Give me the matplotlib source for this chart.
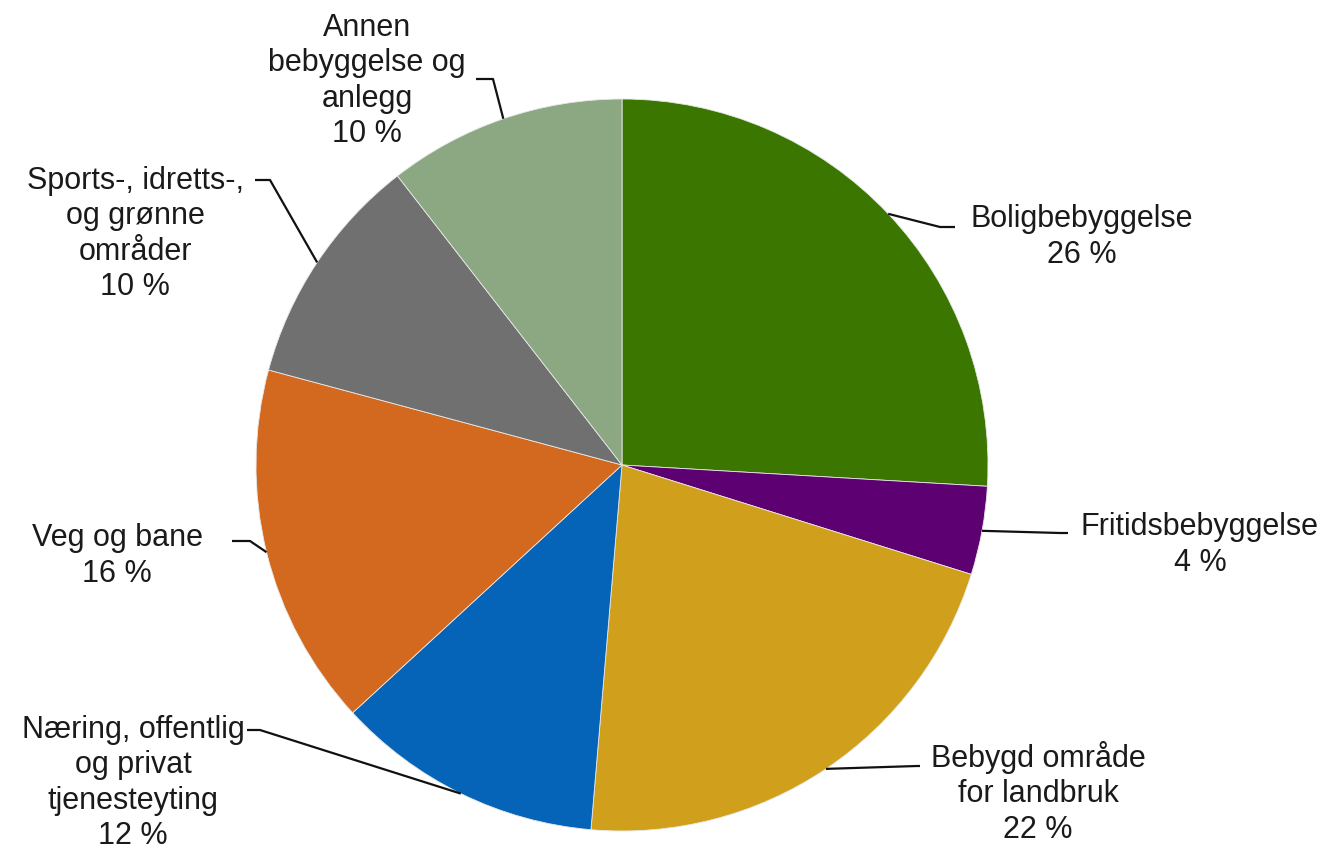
import numpy as np
import matplotlib.pyplot as plt

plt.rcParams["font.family"] = ["Liberation Sans", "DejaVu Sans"]

# ── Data ──────────────────────────────────────────────────────────────────────
labels = ["Boligbebyggelse", "Fritidsbebyggelse", "Bebygd område\nfor landbruk",
          "Næring, offentlig\nog privat\ntjenesteyting", "Veg og bane",
          "Sports-, idretts-,\nog grønne\nområder", "Annen\nbebyggelse og\nanlegg"]
shares = [25.9, 3.9, 21.5, 11.8, 16.0, 10.3, 10.5]
pct_labels = ["26 %", "4 %", "22 %", "12 %", "16 %", "10 %", "10 %"]
colors = ["#3a7600", "#5c0072", "#d09f1c", "#0563b8", "#d2691f", "#707070", "#8ba883"]

# label layout in pixel coords (x centre, y centre of block, leader elbow, leader end)
W, H = 1335, 853
label_xy = [(1082, 237), (1200, 545), (1038, 793), (133, 783),
            (117, 556), (135, 234), (367, 81)]
elbows = [(940, 228), (1060, 534), (917, 767), (260, 731),
          (250, 542), (270, 181), (493, 80)]
ends = [(955, 228), (1068, 534), (920, 767), (247, 731),
        (232, 542), (255, 181), (476, 80)]

CX, CY, R = 622, 466, 366

fig = plt.figure(figsize=(W / 100, H / 100), dpi=100)
ax = fig.add_axes([0, 0, 1, 1])

wedges, _ = ax.pie(shares, colors=colors, startangle=90, counterclock=False,
                   center=(CX, H - CY), radius=R,
                   wedgeprops=dict(edgecolor="#e8e8e8", linewidth=0.6))
ax.set_xlim(0, W)
ax.set_ylim(0, H)
ax.set_aspect("equal")
ax.axis("off")

for w, lab, pct, (tx, ty), (ex, ey), (nx, ny) in zip(
        wedges, labels, pct_labels, label_xy, elbows, ends):
    mid = np.deg2rad((w.theta1 + w.theta2) / 2)
    ax_x = CX + R * np.cos(mid)
    ax_y = (H - CY) + R * np.sin(mid)
    ax.plot([ax_x, ex, nx], [ax_y, H - ey, H - ny], color="#111111", lw=1.6,
            solid_capstyle="butt")
    ax.text(tx, H - ty, f"{lab}\n{pct}", ha="center", va="center",
            multialignment="center", fontsize=22, color="#1a1a1a",
            linespacing=1.24)

fig.savefig("out.png", dpi=100, facecolor="white")
